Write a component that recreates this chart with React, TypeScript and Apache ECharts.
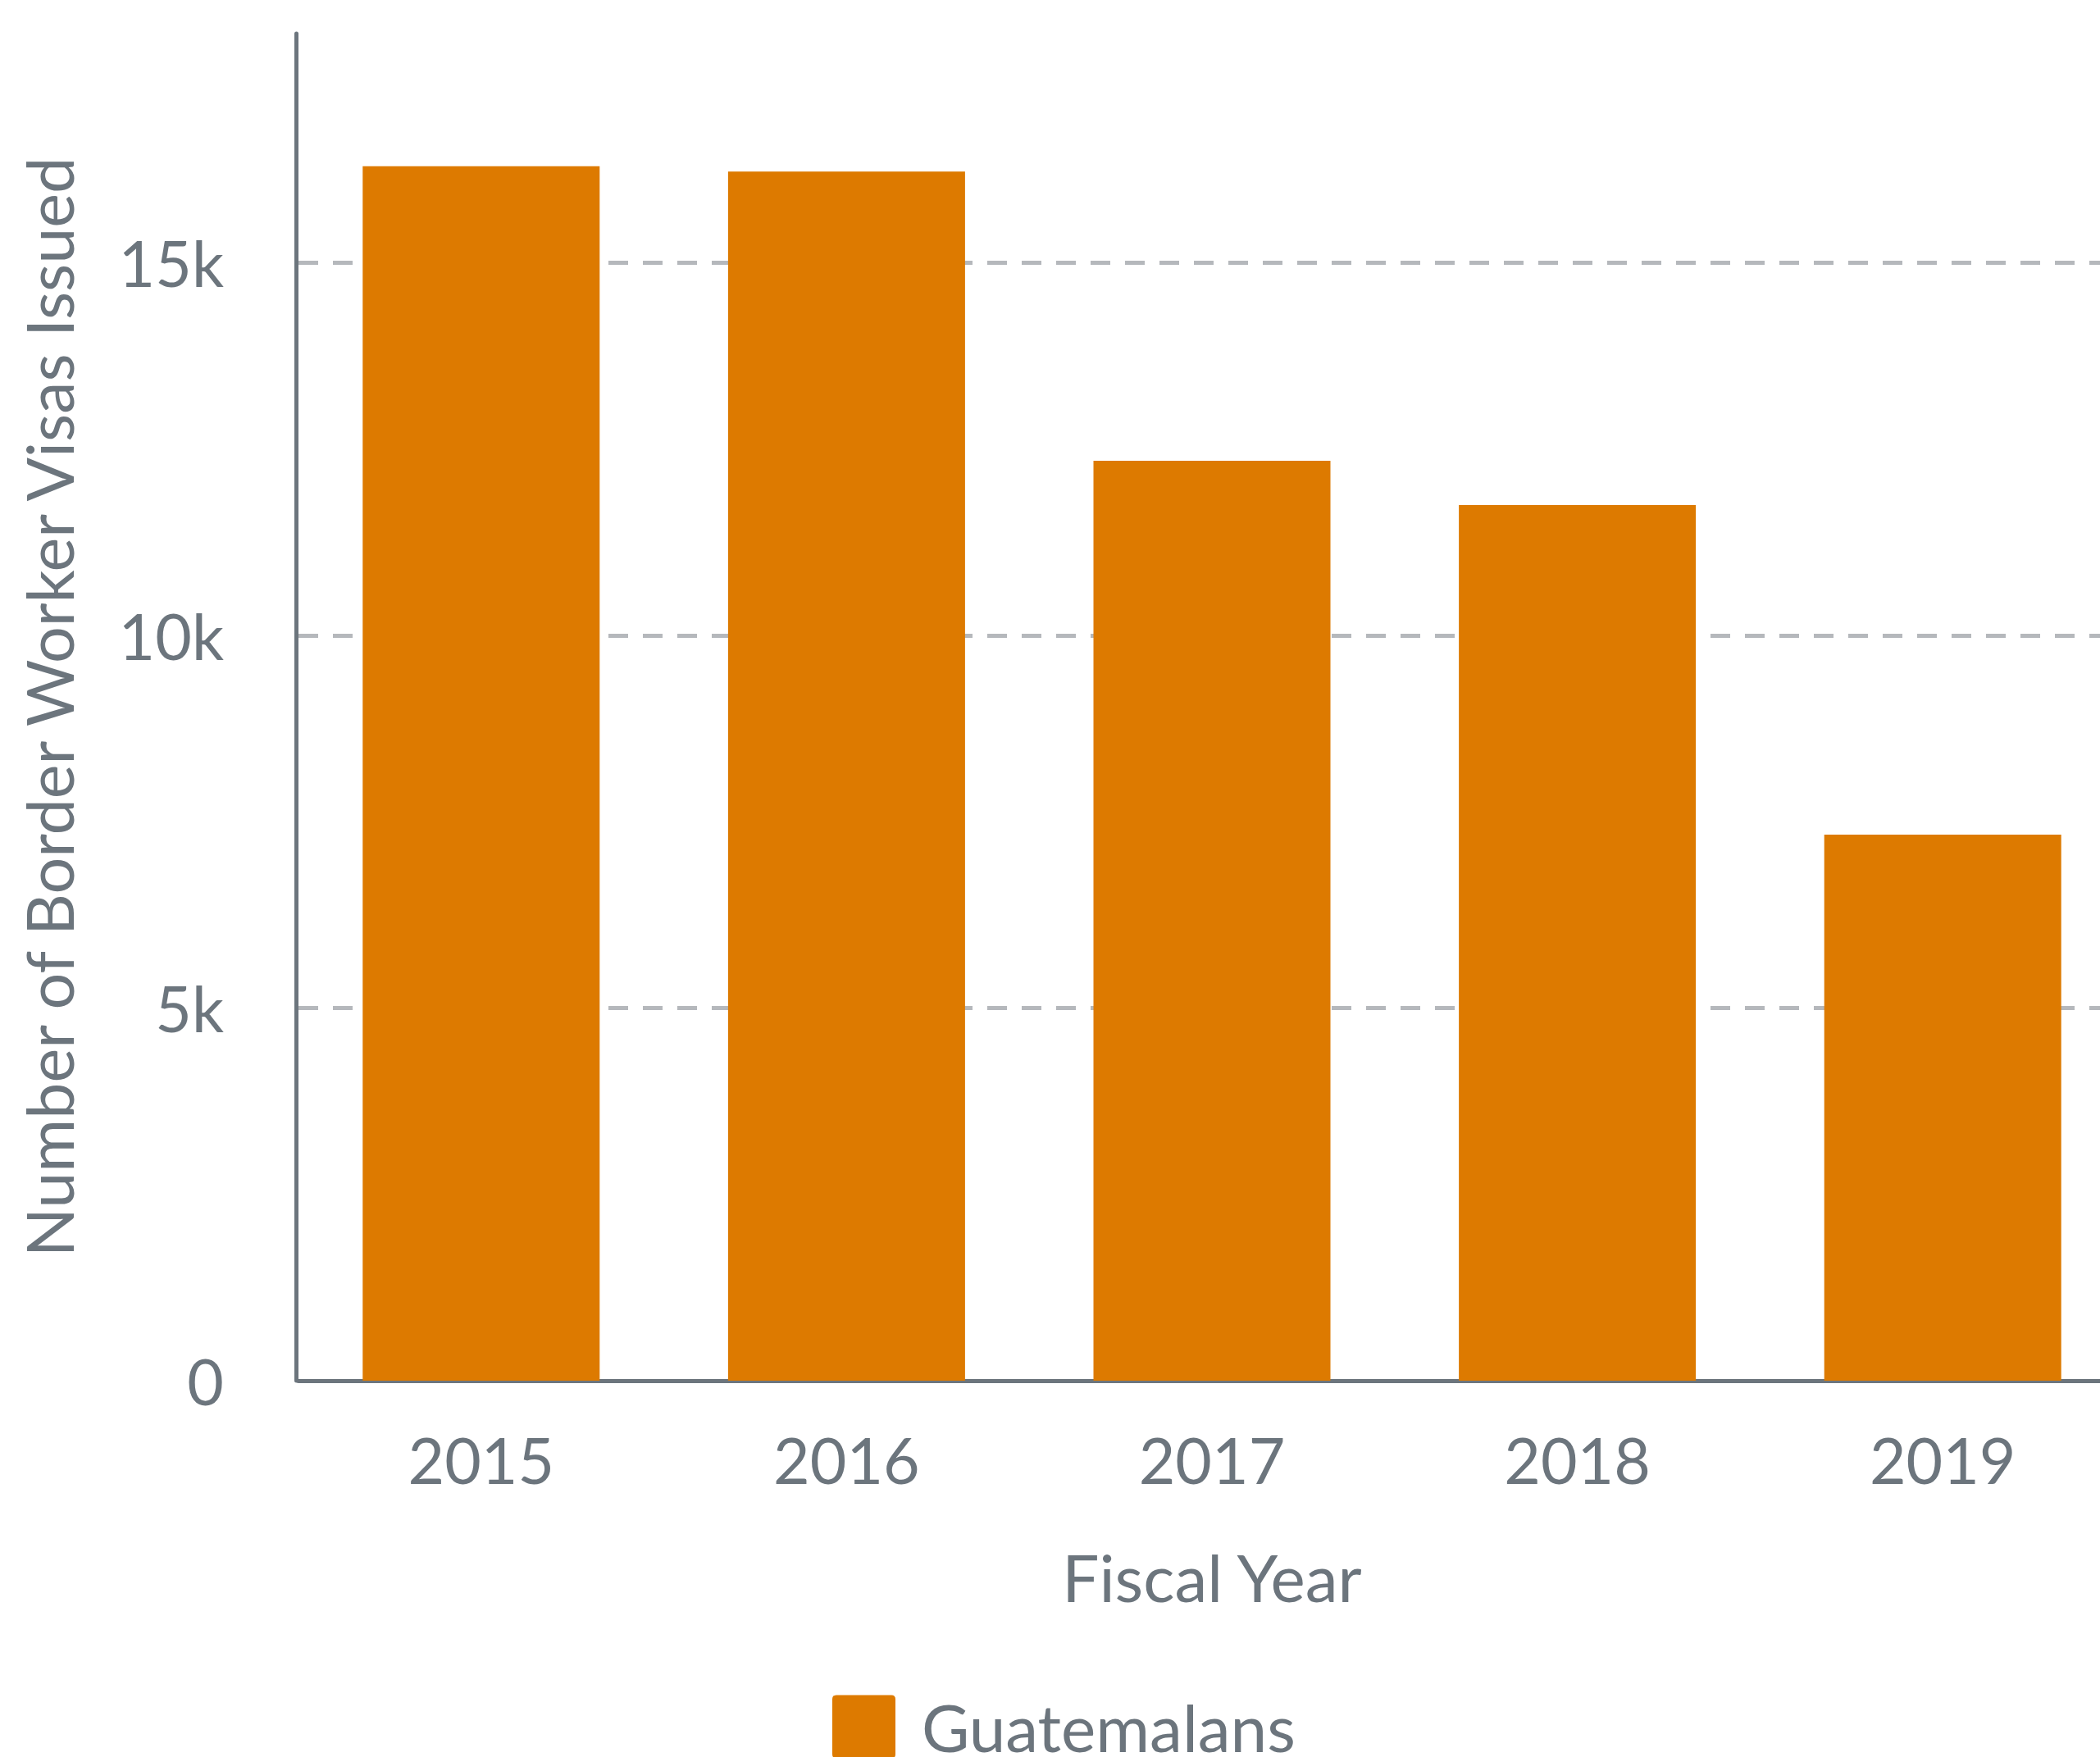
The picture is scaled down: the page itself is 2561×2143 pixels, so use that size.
import React, { useEffect, useRef } from "react";
import * as echarts from "echarts";

const categories = ["2015", "2016", "2017", "2018", "2019"];
const guatemalans = [16290, 16220, 12340, 11745, 7325];
const gridValues = [5000, 10000, 15000];
const seriesName = "Guatemalans";

const GRAY = "#6c757d";
const FONT = "Lato";

export default function App() {
  const ref = useRef<HTMLDivElement>(null);
  useEffect(() => {
    if (!ref.current) return;
    const chart = echarts.init(ref.current, undefined, { renderer: "svg" });
    chart.setOption({
      animation: false,
      backgroundColor: "#ffffff",
      grid: { left: 364, right: 8, top: 41, bottom: 459, containLabel: false },
      legend: {
        data: [seriesName],
        left: 1010,
        top: 2061,
        itemWidth: 77,
        itemHeight: 77,
        itemGap: 20,
        icon: "path://M5,0H72Q77,0 77,5V72Q77,77 72,77H5Q0,77 0,72V5Q0,0 5,0Z",
        textStyle: { color: GRAY, fontSize: 80, fontFamily: FONT, padding: [0, 0, 0, 27] },
      },
      xAxis: {
        type: "category",
        data: categories,
        name: "Fiscal Year",
        nameLocation: "middle",
        nameGap: 199,
        nameTextStyle: { color: GRAY, fontSize: 80, fontFamily: FONT },
        axisLine: { show: true, lineStyle: { color: GRAY, width: 5 } },
        axisTick: { show: false },
        axisLabel: { color: GRAY, fontSize: 77, fontFamily: FONT, margin: 57 },
      },
      yAxis: {
        type: "value",
        min: 0,
        max: 18070,
        interval: 5000,
        offset: 3,
        name: "Number of Border Worker Visas Issued",
        nameLocation: "middle",
        nameGap: 262,
        nameTextStyle: { color: GRAY, fontSize: 79, fontFamily: FONT },
        axisLine: { show: true, lineStyle: { color: GRAY, width: 5 } },
        axisTick: { show: false },
        splitLine: { show: false },
        axisLabel: {
          color: GRAY,
          fontSize: 77,
          fontFamily: FONT,
          margin: 88,
          showMaxLabel: false,
          formatter: (v: number) => (v === 0 ? "0" : v % 1000 === 0 ? v / 1000 + "k" : ""),
        },
      },
      series: [
        {
          name: seriesName,
          type: "bar",
          data: guatemalans,
          barWidth: 289,
          z: 3,
          itemStyle: { color: "#dd7a00" },
          markLine: {
            silent: true,
            symbol: "none",
            z: 1,
            label: { show: false },
            lineStyle: { color: "#b5b8bc", width: 5, type: [24, 18] },
            data: gridValues.map((v) => ({ yAxis: v })),
          },
        },
      ],
    });
    return () => chart.dispose();
  }, []);
  return (
    <div
      style={{ position: "absolute", left: 0, top: 0, width: 2561, height: 2143, overflow: "hidden" }}
    >
      <div ref={ref} style={{ width: 2600, height: 2143 }} />
    </div>
  );
}
